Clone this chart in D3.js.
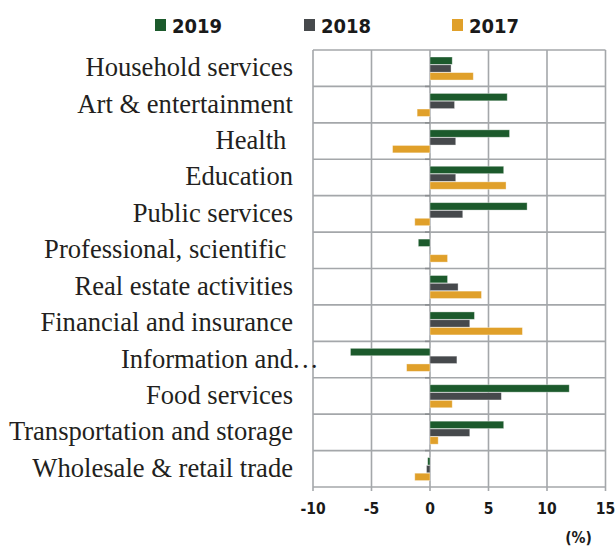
<!DOCTYPE html>
<html>
<head>
<meta charset="utf-8">
<script src="https://cdn.jsdelivr.net/npm/d3@7"></script>
<style>
  html, body { margin: 0; padding: 0; background: #fff; }
  #chart { width: 616px; height: 547px; }
</style>
</head>
<body>
<div id="chart"></div>
<script>
// ── Data ─────────────────────────────────────
const CATEGORIES = [
  "Household services", "Art & entertainment", "Health ", "Education",
  "Public services", "Professional, scientific ", "Real estate activities",
  "Financial and insurance", "Information and…", "Food services",
  "Transportation and storage", "Wholesale & retail trade"
];
const YEARS = ["2019", "2018", "2017"];
const V2019 = [1.9, 6.6, 6.8, 6.3, 8.3, -1.0, 1.5, 3.8, -6.8, 11.9, 6.3, -0.2];
const V2018 = [1.8, 2.1, 2.2, 2.2, 2.8, 0.0, 2.4, 3.4, 2.3, 6.1, 3.4, -0.3];
const V2017 = [3.7, -1.1, -3.2, 6.5, -1.3, 1.5, 4.4, 7.9, -2.0, 1.9, 0.7, -1.3];
const X_TICKS = [-10, -5, 0, 5, 10, 15];

const COLOR = { "2019": "#1c5a2c", "2018": "#46494c", "2017": "#e0a02a" };
const GRID  = "#a4a7aa";
const BOLD_FONT  = "'DejaVu Sans Condensed','DejaVu Sans',sans-serif";
const SERIF_FONT = "'Liberation Serif','Times New Roman',serif";

const rows = CATEGORIES.map((c, i) => ({
  cat: c,
  vals: [ { year: "2019", v: V2019[i] }, { year: "2018", v: V2018[i] }, { year: "2017", v: V2017[i] } ]
}));

const W = 616, H = 547;
const margin = { top: 50, right: 10.5, bottom: 60, left: 313 };
const width  = W - margin.left - margin.right;
const height = 487 - margin.top;

const svg = d3.select("#chart").append("svg").attr("width", W).attr("height", H);
const g = svg.append("g").attr("transform", `translate(${margin.left},${margin.top})`);

const x = d3.scaleLinear().domain([-10, 15]).range([0, width]);
const y0 = d3.scaleBand().domain(CATEGORIES).range([0, height]).padding(0);
const y1 = d3.scaleBand().domain(YEARS).range([7, y0.bandwidth() - 6]).padding(0);

// ── Grid ─────────────────────────────────────
g.append("g").selectAll("line").data(X_TICKS).join("line")
  .attr("x1", d => x(d)).attr("x2", d => x(d))
  .attr("y1", 0).attr("y2", height + 4)
  .attr("stroke", GRID).attr("stroke-width", 1.6);

g.append("g").selectAll("line").data(CATEGORIES.concat(["__end"])).join("line")
  .attr("x1", 0).attr("x2", width)
  .attr("y1", (d, i) => i * y0.bandwidth()).attr("y2", (d, i) => i * y0.bandwidth())
  .attr("stroke", GRID).attr("stroke-width", 1.6);

// little category ticks on the zero axis
g.append("g").selectAll("line").data(CATEGORIES.slice(1)).join("line")
  .attr("x1", x(0) - 5).attr("x2", x(0))
  .attr("y1", d => y0(d)).attr("y2", d => y0(d))
  .attr("stroke", "#8a8d90").attr("stroke-width", 1.6);

// ── Bars ─────────────────────────────────────
const rowG = g.selectAll(".row").data(rows).join("g")
  .attr("class", "row")
  .attr("transform", d => `translate(0,${y0(d.cat)})`);

rowG.selectAll("rect").data(d => d.vals).join("rect")
  .attr("x", d => x(Math.min(0, d.v)))
  .attr("width", d => Math.abs(x(d.v) - x(0)))
  .attr("y", d => y1(d.year))
  .attr("height", y1.bandwidth() - 0.4)
  .attr("fill", d => COLOR[d.year])
  .attr("stroke", "#ffffff").attr("stroke-opacity", 0.45).attr("stroke-width", 0.8);

// ── Category labels ──────────────────────────
const labelX = 293 - margin.left;
const labels = g.append("g").attr("font-family", SERIF_FONT).attr("font-size", "26.6px").attr("fill", "#231f20");
CATEGORIES.forEach(c => {
  const yy = y0(c) + y0.bandwidth() / 2 + 8;
  if (c.endsWith("…")) {
    labels.append("text").attr("x", labelX).attr("y", yy)
      .attr("text-anchor", "end").text(c.slice(0, -1));
    labels.append("text").attr("x", labelX - 1).attr("y", yy)
      .attr("text-anchor", "start").text("…");
  } else {
    labels.append("text").attr("x", labelX).attr("y", yy)
      .attr("text-anchor", "end").attr("xml:space", "preserve")
      .style("white-space", "pre").text(c);
  }
});

// ── X axis labels ────────────────────────────
g.append("g").selectAll("text").data(X_TICKS).join("text")
  .attr("x", d => x(d)).attr("y", height + 27)
  .attr("text-anchor", "middle")
  .attr("font-family", BOLD_FONT).attr("font-weight", "bold")
  .attr("font-size", "15.5px").attr("fill", "#1a1a1a")
  .text(d => d);

g.append("text").attr("x", x(12.7)).attr("y", height + 56)
  .attr("text-anchor", "middle")
  .attr("font-family", BOLD_FONT).attr("font-weight", "bold")
  .attr("font-size", "15.5px").attr("fill", "#1a1a1a")
  .text("(%)");

// ── Legend ───────────────────────────────────
const LEGEND_X = [155, 304, 452];
const legend = svg.append("g");
YEARS.forEach((yr, i) => {
  legend.append("rect").attr("x", LEGEND_X[i]).attr("y", 19)
    .attr("width", 11).attr("height", 12).attr("fill", COLOR[yr]);
  legend.append("text").attr("x", LEGEND_X[i] + 17).attr("y", 32.5)
    .attr("font-family", BOLD_FONT).attr("font-weight", "bold")
    .attr("font-size", "20px").attr("fill", "#1a1a1a")
    .text(yr);
});
</script>
</body>
</html>
